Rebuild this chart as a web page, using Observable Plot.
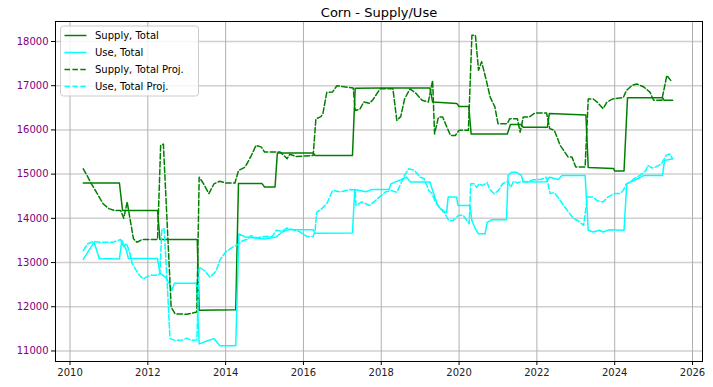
<!DOCTYPE html>
<html><head><meta charset="utf-8">
<script src="https://cdn.jsdelivr.net/npm/d3@7"></script>
<script src="https://cdn.jsdelivr.net/npm/@observablehq/plot@0.6"></script>
<style>
body{margin:0;background:#fff;}
#chart{position:relative;width:713px;height:387px;font-family:"DejaVu Sans",sans-serif;}
</style></head><body><div id="chart"></div>
<script>
const title = "Corn - Supply/Use";
const seriesNames = ["Supply, Total", "Use, Total", "Supply, Total Proj.", "Use, Total Proj."];
const seriesColors = ["green", "cyan", "green", "cyan"];
const seriesDashed = [false, false, true, true];
const xTicks = [2010, 2012, 2014, 2016, 2018, 2020, 2022, 2024, 2026];
const yTicks = [11000, 12000, 13000, 14000, 15000, 16000, 17000, 18000];

const supplyTotal = [[2010.34,14800],[2011.27,14800],[2011.35,14180],[2012.25,14180],[2012.31,13520],[2013.27,13520],[2013.32,11920],[2014.26,11930],[2014.33,14790],[2014.93,14790],[2015.0,14710],[2015.27,14710],[2015.33,15480],[2016.25,15480],[2016.3,15420],[2017.26,15420],[2017.33,16940],[2018.0,16950],[2019.25,16950],[2019.32,16630],[2019.94,16600],[2020.0,16530],[2020.25,16530],[2020.31,15910],[2021.24,15910],[2021.32,16120],[2021.6,16120],[2021.65,16060],[2022.27,16060],[2022.32,16370],[2023.26,16340],[2023.32,15150],[2023.97,15130],[2024.0,15070],[2024.24,15070],[2024.33,16730],[2025.23,16730],[2025.27,16670],[2025.49,16670]];

const useTotal = [[2010.34,13070],[2010.62,13460],[2010.75,13090],[2011.27,13080],[2011.33,13500],[2011.45,13280],[2011.5,13090],[2012.25,13090],[2012.31,12760],[2012.45,12670],[2012.55,12530],[2012.62,12370],[2012.68,12530],[2013.25,12530],[2013.32,11160],[2013.5,11220],[2013.7,11280],[2013.85,11120],[2014.26,11120],[2014.34,13650],[2014.5,13580],[2014.7,13560],[2015.0,13530],[2015.3,13580],[2015.45,13690],[2015.6,13740],[2016.25,13740],[2016.3,13660],[2017.26,13670],[2017.32,14650],[2017.6,14600],[2017.75,14650],[2018.2,14650],[2018.25,14780],[2018.65,14930],[2018.75,14820],[2019.25,14820],[2019.35,14550],[2019.45,14290],[2019.6,14140],[2019.68,14140],[2019.72,14480],[2019.94,14480],[2019.97,14290],[2020.28,14290],[2020.33,13950],[2020.42,13760],[2020.5,13650],[2020.67,13650],[2020.72,13910],[2020.85,13970],[2021.22,13970],[2021.26,14970],[2021.35,15040],[2021.48,15040],[2021.6,14970],[2021.65,14820],[2022.25,14830],[2022.32,14930],[2022.55,14880],[2022.65,14970],[2023.24,14970],[2023.32,13730],[2023.45,13690],[2023.6,13730],[2023.7,13690],[2023.85,13740],[2024.24,13730],[2024.31,14780],[2024.4,14820],[2024.6,14900],[2024.75,14970],[2025.23,14970],[2025.28,15310],[2025.49,15350]];

const supplyProj = [[2010.34,15120],[2010.45,14950],[2010.55,14780],[2010.7,14560],[2010.85,14330],[2011.0,14220],[2011.13,14180],[2011.3,14180],[2011.38,14000],[2011.47,14370],[2011.55,13950],[2011.63,13540],[2011.72,13460],[2011.85,13520],[2012.25,13520],[2012.33,15650],[2012.4,15680],[2012.6,11990],[2012.7,11840],[2013.0,11830],[2013.26,11880],[2013.32,14930],[2013.42,14800],[2013.57,14560],[2013.7,14780],[2013.85,14840],[2014.0,14800],[2014.24,14800],[2014.33,15080],[2014.5,15160],[2014.65,15400],[2014.78,15650],[2014.92,15610],[2015.0,15500],[2015.4,15500],[2015.5,15420],[2015.58,15350],[2015.65,15450],[2015.8,15400],[2016.25,15420],[2016.32,16250],[2016.45,16300],[2016.5,16370],[2016.6,16850],[2016.75,16860],[2016.86,17000],[2017.0,16980],[2017.28,16950],[2017.33,16440],[2017.45,16470],[2017.55,16630],[2017.7,16600],[2017.8,16700],[2017.97,16930],[2018.3,16930],[2018.4,16215],[2018.5,16300],[2018.6,16700],[2018.74,16930],[2018.9,16820],[2019.05,16670],[2019.21,16630],[2019.32,17120],[2019.37,15910],[2019.47,16290],[2019.58,16290],[2019.65,16140],[2019.78,15875],[2019.9,15875],[2020.0,15990],[2020.24,15990],[2020.33,18140],[2020.42,18140],[2020.5,17350],[2020.58,17540],[2020.7,17120],[2020.8,16740],[2020.92,16520],[2021.0,16140],[2021.24,16140],[2021.3,16250],[2021.5,16250],[2021.57,15950],[2021.65,16290],[2021.8,16290],[2021.95,16380],[2022.25,16380],[2022.33,16030],[2022.45,15990],[2022.6,15650],[2022.8,15390],[2022.9,15390],[2023.0,15160],[2023.24,15160],[2023.32,16700],[2023.45,16700],[2023.55,16630],[2023.7,16480],[2023.8,16630],[2023.95,16700],[2024.22,16730],[2024.3,16890],[2024.45,17010],[2024.57,17040],[2024.75,16970],[2024.91,16850],[2025.0,16670],[2025.21,16670],[2025.34,17230],[2025.44,17120]];

const useProj = [[2010.34,13270],[2010.45,13420],[2010.6,13480],[2010.75,13460],[2011.1,13460],[2011.3,13520],[2011.38,13360],[2011.45,13430],[2011.53,13240],[2011.6,12970],[2011.75,12750],[2011.88,12630],[2012.05,12710],[2012.25,12710],[2012.31,12750],[2012.36,13760],[2012.42,13760],[2012.5,12500],[2012.57,11280],[2012.7,11240],[2012.9,11250],[2013.0,11290],[2013.1,11240],[2013.26,11250],[2013.32,12900],[2013.45,12820],[2013.6,12670],[2013.75,12800],[2013.85,13050],[2014.0,13240],[2014.2,13360],[2014.3,13400],[2014.45,13500],[2014.55,13520],[2014.65,13610],[2014.8,13560],[2015.0,13590],[2015.2,13590],[2015.3,13730],[2015.45,13710],[2015.57,13780],[2015.75,13740],[2015.9,13700],[2016.08,13590],[2016.25,13590],[2016.3,13720],[2016.34,14140],[2016.45,14200],[2016.6,14330],[2016.75,14630],[2016.95,14600],[2017.2,14650],[2017.33,14640],[2017.35,14290],[2017.5,14370],[2017.7,14290],[2017.85,14400],[2017.95,14480],[2018.1,14590],[2018.25,14630],[2018.4,14590],[2018.5,14780],[2018.6,14970],[2018.7,15120],[2018.85,15090],[2019.0,14930],[2019.1,14900],[2019.22,14631],[2019.3,14560],[2019.4,14366],[2019.52,14216],[2019.6,14180],[2019.73,13952],[2019.85,13952],[2019.98,14066],[2020.1,14070],[2020.2,13952],[2020.26,13877],[2020.3,14783],[2020.38,14783],[2020.45,14700],[2020.52,14783],[2020.6,14740],[2020.72,14810],[2020.78,14669],[2020.9,14557],[2021.0,14620],[2021.12,14783],[2021.25,14840],[2021.33,14706],[2021.4,14840],[2021.5,14800],[2021.62,14840],[2021.75,14830],[2021.9,14870],[2022.1,14880],[2022.25,14930],[2022.34,14560],[2022.45,14580],[2022.57,14440],[2022.72,14250],[2022.85,14100],[2022.95,13990],[2023.05,13950],[2023.2,13840],[2023.3,14480],[2023.45,14480],[2023.55,14400],[2023.7,14370],[2023.82,14480],[2024.0,14560],[2024.14,14560],[2024.22,14630],[2024.3,14780],[2024.4,14820],[2024.5,14900],[2024.65,14970],[2024.8,15080],[2024.85,15200],[2024.95,15140],[2025.05,15160],[2025.2,15230],[2025.32,15420],[2025.4,15460],[2025.49,15350]];

const allSeries = [supplyTotal, useTotal, supplyProj, useProj];
const rows = [];
allSeries.forEach((s, i) => s.forEach(([t, v]) => rows.push({t, v, series: seriesNames[i]})));

const dash = "5.5,2.4";
const lineMarks = seriesNames.map((name, i) => Plot.line(rows.filter(d => d.series === name), {
  x: "t", y: "v", stroke: seriesColors[i], strokeWidth: 1.5,
  ...(seriesDashed[i] ? {strokeDasharray: dash} : {})
}));

const plot = Plot.plot({
  width: 713, height: 387,
  marginLeft: 55, marginRight: 11, marginTop: 21, marginBottom: 26,
  style: {fontFamily: "DejaVu Sans, sans-serif", fontSize: "10px", background: "#fff", overflow: "visible"},
  x: {domain: [2009.627, 2026.257], label: null},
  y: {domain: [10762, 18452], label: null},
  marks: [
    Plot.gridY(yTicks, {stroke: "#d0d0d0", strokeOpacity: 1, strokeWidth: 1.5}),
    Plot.gridX(xTicks, {stroke: "#b0b0b0", strokeOpacity: 1, strokeWidth: 1}),
    ...lineMarks,
    Plot.axisX(xTicks, {tickFormat: d => String(d), tickSize: 4, tickPadding: 3, stroke: "#000", fill: "#222", fontSize: 10}),
    Plot.axisY(yTicks, {tickFormat: d => String(d), tickSize: 4, tickPadding: 3, stroke: "#000", fill: "purple", fontSize: 10}),
    Plot.frame({stroke: "#000", strokeWidth: 1}),
    Plot.text([title], {frameAnchor: "top", lineAnchor: "bottom", dy: -4.5, fontSize: 13, fill: "#000"})
  ]
});
document.getElementById("chart").appendChild(plot);

// legend (matplotlib style, upper-left inside the axes)
const svg = d3.select(plot);
const lg = svg.append("g").attr("transform", "translate(60.5,26)");
lg.append("rect").attr("width", 138).attr("height", 70).attr("rx", 3)
  .attr("fill", "rgba(255,255,255,0.8)").attr("stroke", "#cccccc").attr("stroke-width", 1);
seriesNames.forEach((name, i) => {
  const yy = 9.5 + i * 17;
  lg.append("line").attr("x1", 4).attr("x2", 26).attr("y1", yy).attr("y2", yy)
    .attr("stroke", seriesColors[i]).attr("stroke-width", 1.5)
    .attr("stroke-dasharray", seriesDashed[i] ? dash : null);
  lg.append("text").attr("x", 34.5).attr("y", yy).attr("dy", "0.35em")
    .attr("text-anchor", "start")
    .attr("font-size", 10).attr("fill", "#000").text(name);
});
</script></body></html>
